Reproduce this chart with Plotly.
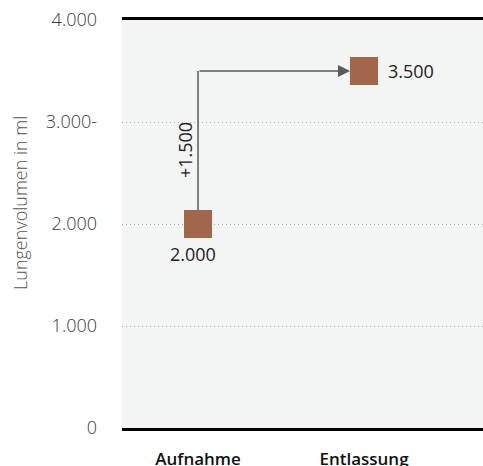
import plotly.graph_objects as go

categories = ["Aufnahme", "Entlassung"]
values = [2000, 3500]
value_labels = ["2.000", "3.500"]
diff_label = "+1.500"
tick_vals = [0, 1000, 2000, 3000, 4000]
tick_text = ["0", "1.000", "2.000", "3.000-", "4.000"]
y_title = "Lungenvolumen in ml"

FONT = "Open Sans, Noto Sans, sans-serif"
MARKER = "#a0674a"

fig = go.Figure()

# vertical connector segment
fig.add_trace(go.Scatter(
    x=[categories[0], categories[0]], y=[values[0], values[1]],
    mode="lines", line=dict(color="#5a5a5a", width=1.5),
    hoverinfo="skip", showlegend=False, cliponaxis=False))

fig.add_trace(go.Scatter(
    x=categories, y=values, mode="markers",
    marker=dict(symbol="square", size=28, color=MARKER, line=dict(width=0)),
    showlegend=False, cliponaxis=False))

# horizontal arrow segment
fig.add_annotation(x=categories[1], y=values[1], ax=categories[0], ay=values[1],
                   xref="x", yref="y", axref="x", ayref="y",
                   showarrow=True, arrowhead=2, arrowsize=1.6, arrowwidth=1.5,
                   arrowcolor="#5a5a5a", standoff=14, text="")

fig.add_annotation(x=categories[0], y=(values[0] + values[1]) / 2 - 25, text=diff_label,
                   textangle=-90, showarrow=False, xshift=-13,
                   font=dict(family=FONT, size=18, color="#222"))
fig.add_annotation(x=categories[0], y=values[0], text=value_labels[0], showarrow=False,
                   yshift=-30, xshift=-5, font=dict(family=FONT, size=18, color="#222"))
fig.add_annotation(x=categories[1], y=values[1], text=value_labels[1], showarrow=False,
                   xanchor="left", xshift=22, font=dict(family=FONT, size=18, color="#222"))

# y-axis title
fig.add_annotation(x=-0.2826, y=0.5515, xref="paper", yref="paper", text=y_title,
                   textangle=-90, showarrow=False, xanchor="center", yanchor="middle",
                   font=dict(family=FONT, size=18, color="#555", weight=300))

fig.update_layout(
    width=483, height=466,
    margin=dict(l=122, r=0, t=20, b=38, autoexpand=False),
    paper_bgcolor="white", plot_bgcolor="#f3f4f4",
    font=dict(family=FONT),
    xaxis=dict(type="category", categoryorder="array", categoryarray=categories,
               range=[-0.458, 1.717], showline=True, mirror=True, linecolor="black",
               linewidth=3, showgrid=False, zeroline=False, ticks="",
               ticklabelstandoff=14, automargin=False,
               tickfont=dict(family="Open Sans, sans-serif", size=17, color="#111", weight=600)),
    yaxis=dict(range=[0, 4000], tickvals=tick_vals, ticktext=tick_text,
               showgrid=True, gridcolor="#aaaaaa", griddash="1px,3px", gridwidth=1,
               zeroline=False, showline=False, ticks="", ticklabelstandoff=24,
               automargin=False,
               tickfont=dict(family=FONT, size=18, color="#3a3a3a", weight=300)),
)

fig.write_html("out.html", config={"displayModeBar": False},
               post_script="document.body.style.margin='0';")
